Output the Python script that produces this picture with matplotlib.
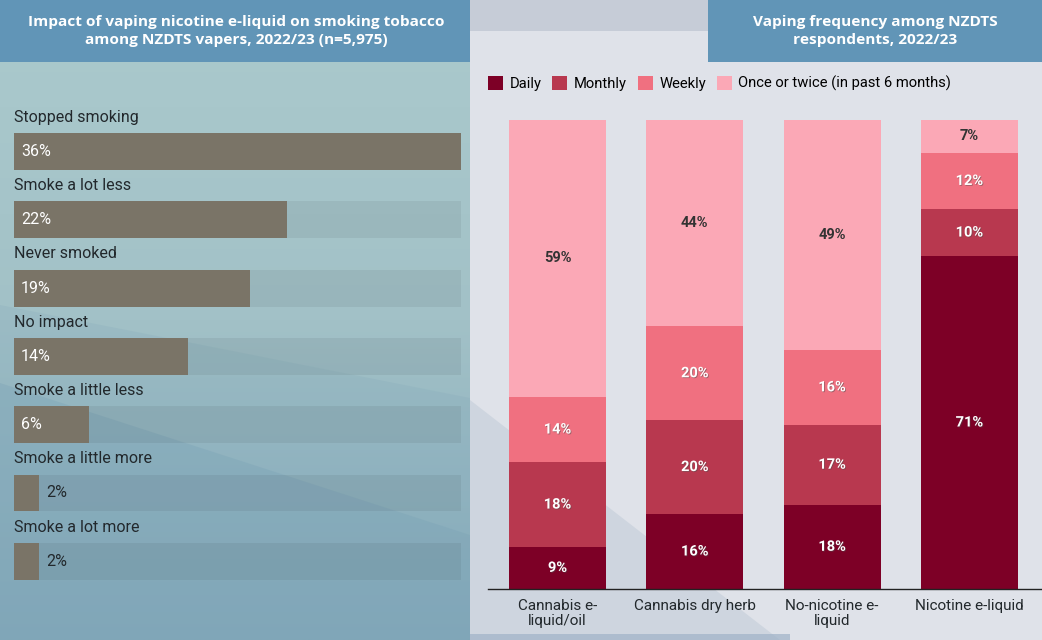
import numpy as np
import matplotlib
matplotlib.use("Agg")
import matplotlib.pyplot as plt
from matplotlib.patches import Polygon, Rectangle
import matplotlib.patheffects as pe

# Left panel: impact of vaping nicotine e-liquid on smoking
impact_labels = ["Stopped smoking", "Smoke a lot less", "Never smoked", "No impact",
                 "Smoke a little less", "Smoke a little more", "Smoke a lot more"]
impact_values = [36, 22, 19, 14, 6, 2, 2]

# Right panel: vaping frequency
products = ["Cannabis e-\nliquid/oil", "Cannabis dry herb", "No-nicotine e-\nliquid", "Nicotine e-liquid"]
freq_names = ["Daily", "Monthly", "Weekly", "Once or twice (in past 6 months)"]
daily = [9, 16, 18, 71]
monthly = [18, 20, 17, 10]
weekly = [14, 20, 16, 12]
once = [59, 44, 49, 7]
freq_colors = ["#7d0026", "#b8384f", "#f07080", "#fba8b6"]

W, H = 1042, 640
fig = plt.figure(figsize=(W / 100, H / 100), dpi=100)


def px_axes(x0, y0, x1, y1, **kw):
    # axes from pixel box (top-left origin)
    return fig.add_axes([x0 / W, 1 - y1 / H, (x1 - x0) / W, (y1 - y0) / H], **kw)


# background
bg = px_axes(0, 0, W, H)
bg.set_xlim(0, W)
bg.set_ylim(H, 0)
bg.axis("off")
grad = np.linspace(0, 1, 256).reshape(-1, 1)
cmap = matplotlib.colors.LinearSegmentedColormap.from_list("lp", ["#abcacd", "#a2c1c7", "#86abbb"])
bg.imshow(grad, cmap=cmap, extent=[0, 470, H, 0], aspect="auto", zorder=0)
bg.add_patch(Polygon([(0, 305), (470, 398), (470, H), (0, H)], color="#7fa5b8", alpha=0.2, lw=0, zorder=1))
bg.add_patch(Polygon([(0, 383), (470, 535), (470, H), (0, H)], color="#7aa2b6", alpha=0.35, lw=0, zorder=1))
bg.add_patch(Rectangle((470, 0), W - 470, H, color="#dfe2e9", lw=0, zorder=0))
bg.add_patch(Rectangle((470, 0), 238, 31, color="#c6ccd7", lw=0, zorder=1))
bg.add_patch(Polygon([(470, 400), (780, H), (470, H)], color="#c3cdd9", alpha=0.6, lw=0, zorder=1))
bg.add_patch(Rectangle((470, 634), 320, 6, color="#9fb2c8", alpha=0.7, lw=0, zorder=2))
# title boxes
bg.add_patch(Rectangle((0, 0), 470, 62, color="#6195b7", lw=0, zorder=3))
bg.add_patch(Rectangle((708, 0), W - 708, 62, color="#6195b7", lw=0, zorder=3))
bg.text(236, 31, "Impact of vaping nicotine e-liquid on smoking tobacco\namong NZDTS vapers, 2022/23 (n=5,975)",
        ha="center", va="center", color="white", fontsize=11.1, fontweight="bold",
        family="Open Sans", linespacing=1.3, zorder=4)
bg.text(875, 31, "Vaping frequency among NZDTS\nrespondents, 2022/23",
        ha="center", va="center", color="white", fontsize=11.1, fontweight="bold",
        family="Open Sans", linespacing=1.3, zorder=4)

# left horizontal bars
step = 68.3
c0 = 151.5
axl = px_axes(14, 100, 461, 600)
axl.patch.set_alpha(0)
axl.set_xlim(0, max(impact_values))
axl.set_ylim((600 - c0) / step, (100 - c0) / step)
axl.axis("off")
rows = np.arange(len(impact_labels))
axl.barh(rows, [max(impact_values)] * len(rows), height=0.54, color="black", alpha=0.06, lw=0)
axl.barh(rows, impact_values, height=0.54, color="#7a7467", lw=0)
for r, lab, v in zip(rows, impact_labels, impact_values):
    axl.text(0, r - 0.5, lab, ha="left", va="center", fontsize=11.5, color="#22282c", family="Roboto")
    if v >= 5:
        axl.text(0.55, r, f"{v}%", ha="left", va="center", fontsize=11.5, color="white", family="Roboto")
    else:
        axl.text(v + 0.6, r, f"{v}%", ha="left", va="center", fontsize=11.5, color="#22282c", family="Roboto")

# right stacked bars
x0c, sp = 557.5, 137.3
axr = px_axes(488, 120, 1042, 589)
axr.patch.set_alpha(0)
axr.set_xlim((488 - x0c) / sp, (1042 - x0c) / sp)
axr.set_ylim(0, 100)
x = np.arange(len(products))
bottom = np.zeros(len(products))
series = [daily, monthly, weekly, once]
handles = []
for name, vals, col in zip(freq_names, series, freq_colors):
    bars = axr.bar(x, vals, bottom=bottom, width=0.707, color=col, lw=0, label=name)
    handles.append(bars)
    for xi, b, v in zip(x, bottom, vals):
        dark = col == freq_colors[3]
        axr.text(xi, b + v / 2, f"{v}%", ha="center", va="center", fontsize=10.5, fontweight="bold",
                 family="Roboto", color="#333333" if dark else "white",
                 path_effects=[] if dark else [pe.withSimplePatchShadow(offset=(0.6, -0.6), alpha=0.5)])
    bottom += np.array(vals)
for s in ["top", "right", "left"]:
    axr.spines[s].set_visible(False)
axr.spines["bottom"].set_color("#222222")
axr.spines["bottom"].set_linewidth(1)
axr.set_yticks([])
axr.set_xticks(x)
axr.set_xticklabels(products, fontsize=11, family="Roboto", color="#22282c", linespacing=1.15)
axr.tick_params(axis="x", length=0, pad=7)
axr.legend(handles=handles, loc="upper left", bbox_to_anchor=(0, 1 + (120 - 76) / 469),
           ncol=4, frameon=False, handlelength=1.0, handleheight=1.05, handletextpad=0.45,
           columnspacing=0.75, borderaxespad=0, borderpad=0,
           prop={"family": "Roboto", "size": 10.6})

fig.savefig("out.png", dpi=100)
